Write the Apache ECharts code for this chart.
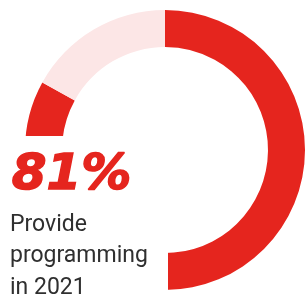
<!DOCTYPE html>
<html>
<head>
<meta charset="utf-8">
<script src="https://cdn.jsdelivr.net/npm/echarts@6/dist/echarts.min.js"></script>
<style>
  html, body { margin: 0; padding: 0; background: #fff; }
  #chart { width: 306px; height: 295px; }
</style>
</head>
<body>
<div id="chart"></div>
<script>
// arc shares as drawn in the picture (headline says 81%)
var segNames = ['Provide programming', 'Do not'];
var segValues = [83, 17];
var headline = '81%';
var caption = ['Provide', 'programming', 'in 2021'];

var myChart = echarts.init(document.getElementById('chart'));

var option = {
    animation: false,
    series: [{
        type: 'pie',
        silent: true,
        center: [165, 150],
        radius: [103, 140],
        startAngle: 90,
        clockwise: true,
        label: { show: false },
        labelLine: { show: false },
        itemStyle: { borderWidth: 0 },
        data: [
            { name: segNames[0], value: segValues[0], itemStyle: { color: '#e5251e' } },
            { name: segNames[1], value: segValues[1], itemStyle: { color: '#fce6e6' } }
        ]
    }],
    graphic: [
        // white box that hides the lower-left part of the ring
        {
            type: 'rect',
            z: 100,
            shape: { x: 0, y: 136, width: 168, height: 160 },
            style: { fill: '#fff' }
        },
        {
            type: 'text',
            z: 101,
            left: 11,
            top: 150,
            style: {
                text: headline,
                fill: '#e5251e',
                stroke: '#e5251e',
                lineWidth: 1.5,
                font: 'italic bold 50px "DejaVu Sans"'
            }
        },
        {
            type: 'text',
            z: 101,
            left: 10,
            top: 209,
            style: {
                text: caption.join('\n'),
                fill: '#2f2f2f',
                font: '23px Roboto',
                lineHeight: 31.5
            }
        }
    ]
};

myChart.setOption(option);
window.onresize = myChart.resize;
</script>
</body>
</html>
